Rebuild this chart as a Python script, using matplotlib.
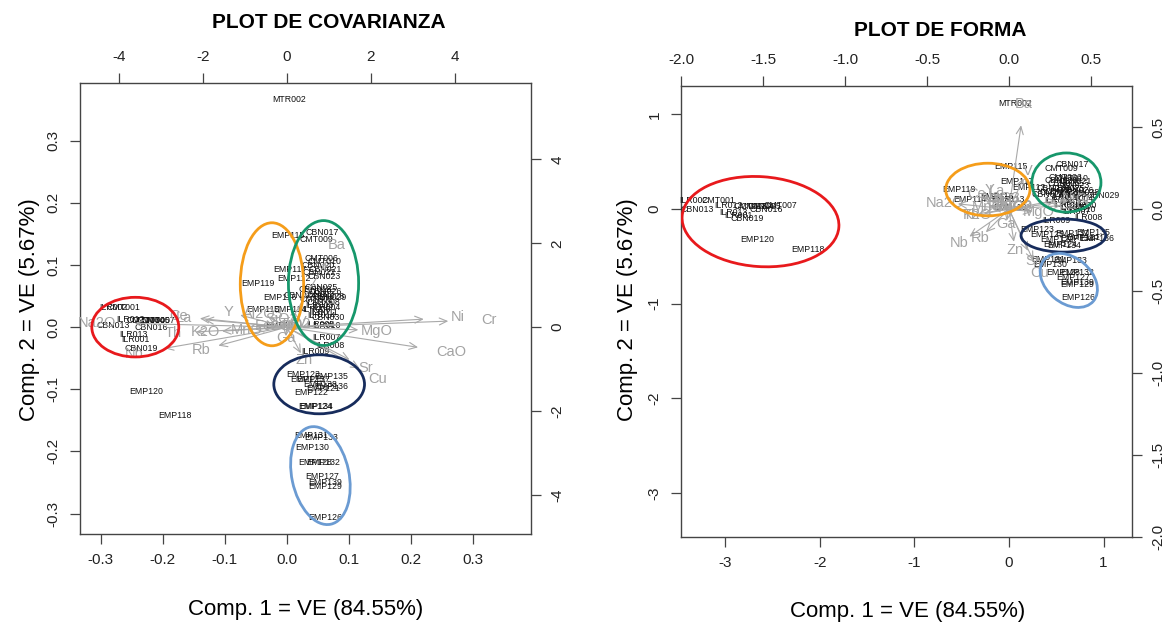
import matplotlib
matplotlib.use('Agg')
import matplotlib.pyplot as plt
from matplotlib.patches import Ellipse

plt.rcParams['font.family'] = ['Liberation Sans', 'DejaVu Sans']

# ---------------- PLOT DE COVARIANZA (scores + loadings) ----------------
cov_names = ['MTR002', 'CBN017', 'CMT009', 'EMP115', 'EMP117', 'EMP112', 'EMP119', 'EMP116',
             'EMP113', 'EMP114', 'EMP110', 'CBN024', 'CBN018',
             'CMT006', 'CMT010', 'CBN020', 'CBN021', 'CBN022', 'CBN023', 'CBN025', 'CBN026',
             'CBN027', 'CBN028', 'CBN029', 'CMT002', 'CMT008', 'ILR003', 'ILR004', 'ILR006',
             'ILR011', 'ILR014', 'CBN030',
             'ILR005', 'ILR010', 'ILR007', 'ILR008', 'ILR009',
             'EMP123', 'EMP135', 'EMP137', 'EMP125', 'EMP136', 'EMP121', 'EMP138', 'EMP122',
             'EMP124', 'EMP134',
             'EMP131', 'EMP133', 'EMP130', 'EMP128', 'EMP132', 'EMP127', 'EMP139', 'EMP129', 'EMP126',
             'ILR002', 'CMT001', 'ILR012', 'CMT003', 'CMT004', 'CMT005', 'CMT007', 'CBN013',
             'CBN016', 'ILR013', 'ILR001', 'CBN019', 'EMP120', 'EMP118']
cov_x = [0.004, 0.057, 0.048, 0.002, 0.005, 0.011, -0.046, -0.011,
         -0.038, 0.005, -0.008, 0.021, 0.045,
         0.056, 0.060, 0.050, 0.062, 0.052, 0.060, 0.055, 0.062,
         0.050, 0.066, 0.070, 0.047, 0.058, 0.052, 0.064, 0.048,
         0.060, 0.055, 0.066,
         0.054, 0.064, 0.063, 0.070, 0.046,
         0.027, 0.072, 0.043, 0.032, 0.072, 0.059, 0.054, 0.039,
         0.046, 0.048,
         0.040, 0.056, 0.040, 0.046, 0.059, 0.057, 0.061, 0.061, 0.061,
         -0.279, -0.263, -0.252, -0.231, -0.223, -0.215, -0.207, -0.279,
         -0.219, -0.247, -0.243, -0.235, -0.227, -0.180]
cov_y = [0.366, 0.153, 0.141, 0.147, 0.092, 0.078, 0.070, 0.047,
         0.029, 0.029, 0.002, 0.051, 0.060,
         0.111, 0.106, 0.100, 0.093, 0.088, 0.082, 0.063, 0.058,
         0.052, 0.050, 0.047, 0.045, 0.040, 0.035, 0.032, 0.028,
         0.024, 0.019, 0.015,
         0.005, 0.002, -0.016, -0.030, -0.040,
         -0.076, -0.079, -0.085, -0.085, -0.095, -0.099, -0.092, -0.105,
         -0.127, -0.127,
         -0.175, -0.177, -0.194, -0.218, -0.218, -0.240, -0.250, -0.257, -0.306,
         0.031, 0.031, 0.012, 0.010, 0.010, 0.010, 0.010, 0.002,
         -0.001, -0.012, -0.020, -0.034, -0.104, -0.142]

cov_vars = ['Ni', 'Cr', 'CaO', 'MgO', 'Sr', 'Cu', 'Zn', 'Ba', 'Ga', 'Rb', 'Nb', 'Th', 'K2O',
            'MnO', 'Y', 'Al2O3', 'SiO2', 'Na2O', 'Ce', 'La', 'Fe2O3', 'TiO2', 'V']
cov_vx = [4.08, 4.81, 3.91, 2.13, 1.87, 2.17, 0.42, 1.18, -0.03, -2.04, -3.64, -2.70, -1.93,
          -0.95, -1.39, -0.56, -0.12, -4.53, -2.59, -2.45, -0.24, 0.20, 0.35]
cov_vy = [0.24, 0.18, -0.60, -0.08, -0.97, -1.23, -0.78, 1.96, -0.27, -0.55, -0.63, -0.14, -0.12,
          -0.06, 0.36, 0.31, 0.20, 0.11, 0.26, 0.22, 0.03, 0.08, 0.12]

# ---------------- PLOT DE FORMA ----------------
form_names = ['MTR002', 'EMP115', 'EMP117', 'EMP112', 'EMP119', 'EMP114', 'EMP116', 'EMP113', 'EMP110',
              'CBN017', 'CMT009', 'CBN029', 'CBN024', 'ILR007', 'ILR008', 'ILR009', 'ILR005', 'ILR010',
              'CMT006', 'CMT010', 'CBN020', 'CBN021', 'CBN022', 'CBN023', 'CBN025', 'CBN026',
              'CBN027', 'CBN028', 'CMT002', 'CMT008', 'ILR003', 'ILR004', 'ILR006', 'ILR011',
              'ILR014', 'CBN030', 'CBN018',
              'EMP123', 'EMP125', 'EMP137', 'EMP135', 'EMP136', 'EMP121', 'EMP138', 'EMP122',
              'EMP124', 'EMP134',
              'EMP131', 'EMP133', 'EMP130', 'EMP128', 'EMP132', 'EMP127', 'EMP139', 'EMP129', 'EMP126',
              'ILR002', 'CMT001', 'CBN013', 'ILR012', 'CMT003', 'CMT004', 'CMT005', 'CMT007',
              'CBN016', 'ILR013', 'ILR001', 'CBN019', 'EMP120', 'EMP118']
form_x = [0.066, 0.023, 0.083, 0.206, -0.533, -0.417, -0.128, -0.016, 0.013,
          0.665, 0.559, 0.999, 0.418, 0.717, 0.840, 0.506, 0.682, 0.770,
          0.60, 0.66, 0.55, 0.70, 0.58, 0.68, 0.62, 0.72,
          0.55, 0.78, 0.50, 0.65, 0.60, 0.74, 0.52, 0.68,
          0.62, 0.75, 0.47,
          0.302, 0.400, 0.665, 0.893, 0.929, 0.788, 0.718, 0.506,
          0.541, 0.583,
          0.418, 0.647, 0.436, 0.576, 0.718, 0.683, 0.718, 0.718, 0.728,
          -3.335, -3.07, -3.29, -2.965, -2.735, -2.66, -2.58, -2.42,
          -2.56, -2.91, -2.86, -2.765, -2.66, -2.12]
form_y = [1.113, 0.446, 0.291, 0.228, 0.207, 0.098, 0.137, 0.098, 0.017,
          0.474, 0.432, 0.140, 0.158, -0.025, -0.088, -0.123, 0.017, 0.000,
          0.33, 0.32, 0.30, 0.29, 0.27, 0.25, 0.22, 0.20,
          0.19, 0.17, 0.17, 0.15, 0.12, 0.11, 0.09, 0.07,
          0.05, 0.04, 0.22,
          -0.221, -0.264, -0.257, -0.246, -0.306, -0.299, -0.316, -0.320,
          -0.376, -0.383,
          -0.538, -0.545, -0.587, -0.668, -0.668, -0.727, -0.773, -0.798, -0.931,
          0.087, 0.087, 0.000, 0.035, 0.024, 0.024, 0.030, 0.035,
          -0.010, -0.035, -0.063, -0.105, -0.320, -0.430]

form_vars = ['Ba', 'V', 'Nb', 'Rb', 'Zn', 'Sr', 'Cu', 'Ga', 'MgO', 'Na2O', 'K2O', 'Th', 'Ce',
             'Y', 'La', 'Al2O3', 'SiO2', 'MnO', 'Ni', 'Cr', 'CaO', 'Fe2O3', 'TiO2']
form_vx = [0.093, 0.113, -0.302, -0.176, 0.038, 0.146, 0.187, -0.017, 0.180, -0.390, -0.192,
           -0.233, -0.200, -0.119, -0.074, -0.054, -0.030, -0.131, 0.363, 0.451, 0.394, 0.007, 0.050]
form_vy = [0.640, 0.234, -0.210, -0.177, -0.250, -0.319, -0.392, -0.088, -0.020, 0.040, -0.035,
           -0.035, 0.091, 0.116, 0.112, 0.067, 0.035, 0.010, 0.067, 0.061, 0.026, 0.020, 0.010]

ARROW = '#a9a9a9'
VARTXT = '#a3a3a3'
AXC = '#444444'


def biplot(rect, names, sx, sy, vars_, vx, vy, slim, vlim,
           bt, btl, lt, ltl, tt, ttl, rt, rtl, ellipses):
    ax = fig.add_axes(rect)
    ax.set_xlim(slim)
    ax.set_ylim(slim)
    for n, x, y in zip(names, sx, sy):
        ax.text(x, y, n, ha='center', va='center', fontsize=6.3, color='#111111')
    ax.set_xticks(bt)
    ax.set_xticklabels(btl)
    ax.set_yticks(lt)
    ax.set_yticklabels(ltl, rotation=90, va='center')
    ax.tick_params(direction='out', length=7, width=0.9, colors=AXC, labelsize=11,
                   labelcolor='#222222', pad=7)
    for s in ax.spines.values():
        s.set_color(AXC)
        s.set_linewidth(1.0)

    ax2 = fig.add_axes(rect, label='vars%s' % rect[0])
    ax2.patch.set_visible(False)
    ax2.set_xlim(vlim)
    ax2.set_ylim(vlim)
    ax2.xaxis.tick_top()
    ax2.yaxis.tick_right()
    ax2.set_xticks(tt)
    ax2.set_xticklabels(ttl)
    ax2.set_yticks(rt)
    ax2.set_yticklabels(rtl, rotation=90, va='center')
    ax2.tick_params(direction='out', length=7, width=0.9, colors=AXC, labelsize=11,
                    labelcolor='#222222', pad=7)
    for s in ax2.spines.values():
        s.set_visible(False)
    for v, x, y in zip(vars_, vx, vy):
        ax2.annotate('', xy=(0.8 * x, 0.8 * y), xytext=(0, 0),
                     arrowprops=dict(arrowstyle='->,head_length=0.55,head_width=0.25',
                                     color=ARROW, lw=0.8, shrinkA=0, shrinkB=0))
        ax2.text(x, y, v, ha='center', va='center', fontsize=10.5, color=VARTXT)
    for (cx, cy, w, h, ang, col) in ellipses:
        ax2.add_patch(Ellipse((cx, cy), w, h, angle=ang, fill=False, edgecolor=col,
                              lw=2.0, transform=ax.transData, zorder=5))
    return ax, ax2


fig = plt.figure(figsize=(11.63, 6.24), dpi=100)

RED, ORANGE, GREEN, NAVY, LBLUE = '#e8191c', '#f59d1a', '#16976b', '#172c5c', '#6b9bd2'

# covariance plot
r1 = [80 / 1163, (624 - 534) / 624, 451 / 1163, 451 / 624]
cov_ell = [(-0.244, 0.000, 0.140, 0.096, 0, RED),
           (-0.024, 0.069, 0.102, 0.198, 0, ORANGE),
           (0.059, 0.071, 0.113, 0.201, 0, GREEN),
           (0.052, -0.092, 0.146, 0.095, 0, NAVY),
           (0.054, -0.239, 0.092, 0.160, 12, LBLUE)]
biplot(r1, cov_names, cov_x, cov_y, cov_vars, cov_vx, cov_vy,
       (-0.333, 0.393), (-4.93, 5.82),
       [-0.3, -0.2, -0.1, 0.0, 0.1, 0.2, 0.3], ['-0.3', '-0.2', '-0.1', '0.0', '0.1', '0.2', '0.3'],
       [-0.3, -0.2, -0.1, 0.0, 0.1, 0.2, 0.3], ['-0.3', '-0.2', '-0.1', '0.0', '0.1', '0.2', '0.3'],
       [-4, -2, 0, 2, 4], ['-4', '-2', '0', '2', '4'],
       [-4, -2, 0, 2, 4], ['-4', '-2', '0', '2', '4'],
       cov_ell)

# form plot
r2 = [681 / 1163, (624 - 537) / 624, 451 / 1163, 451 / 624]
form_ell = [(-2.625, -0.133, 1.66, 0.95, -4, RED),
            (-0.223, 0.206, 0.89, 0.556, 0, ORANGE),
            (0.607, 0.280, 0.73, 0.625, 0, GREEN),
            (0.575, -0.280, 0.895, 0.35, 0, NAVY),
            (0.632, -0.754, 0.68, 0.48, -40, LBLUE)]
biplot(r2, form_names, form_x, form_y, form_vars, form_vx, form_vy,
       (-3.465, 1.30), (-2.003, 0.752),
       [-3, -2, -1, 0, 1], ['-3', '-2', '-1', '0', '1'],
       [-3, -2, -1, 0, 1], ['-3', '-2', '-1', '0', '1'],
       [-2.0, -1.5, -1.0, -0.5, 0.0, 0.5], ['-2.0', '-1.5', '-1.0', '-0.5', '0.0', '0.5'],
       [-2.0, -1.5, -1.0, -0.5, 0.0, 0.5], ['-2.0', '-1.5', '-1.0', '-0.5', '0.0', '0.5'],
       form_ell)

# titles and axis labels
fig.text(329 / 1163, 1 - 22 / 624, 'PLOT DE COVARIANZA', ha='center', va='center',
         fontsize=15, fontweight='bold')
fig.text(940 / 1163, 1 - 30 / 624, 'PLOT DE FORMA', ha='center', va='center',
         fontsize=15, fontweight='bold')
fig.text(306 / 1163, 1 - 609 / 624, 'Comp. 1 = VE (84.55%)', ha='center', va='center', fontsize=16)
fig.text(908 / 1163, 1 - 611 / 624, 'Comp. 1 = VE (84.55%)', ha='center', va='center', fontsize=16)
fig.text(30 / 1163, 1 - 310 / 624, 'Comp. 2 = VE (5.67%)', ha='center', va='center',
         fontsize=16, rotation=90)
fig.text(628 / 1163, 1 - 310 / 624, 'Comp. 2 = VE (5.67%)', ha='center', va='center',
         fontsize=16, rotation=90)

fig.savefig('out.png', dpi=100)
